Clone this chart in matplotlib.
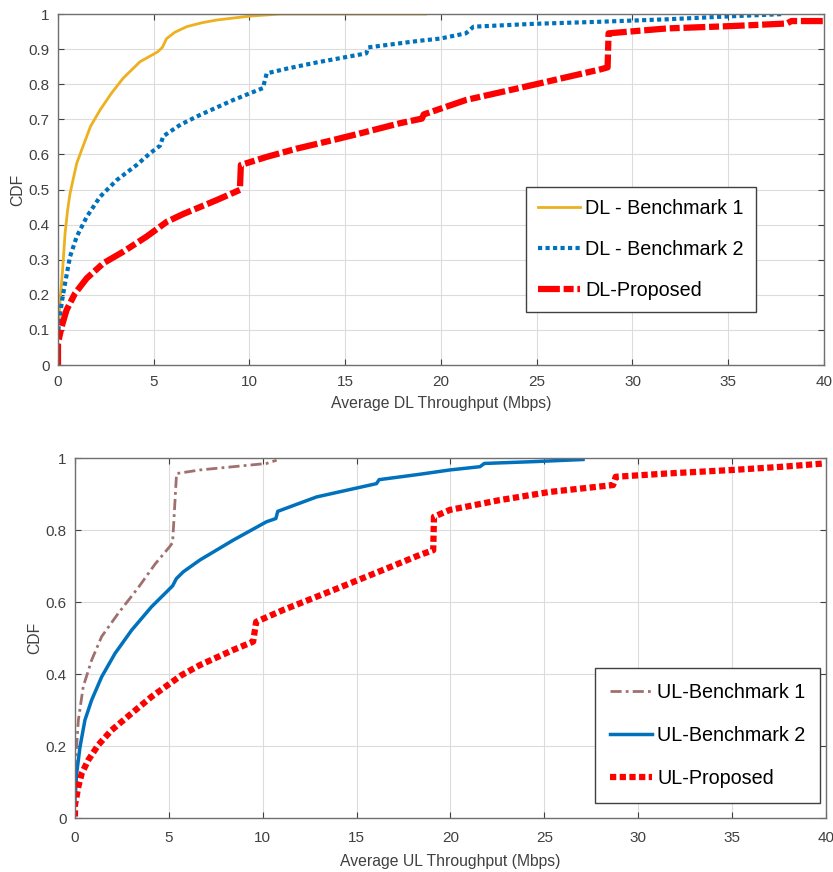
import matplotlib
matplotlib.use("Agg")
import matplotlib.pyplot as plt

plt.rcParams["font.family"] = ["Liberation Sans", "DejaVu Sans"]

# DL curves (x in Mbps, y = CDF)
dl_b1_x = [0.05, 0.1, 0.24, 0.37, 0.5, 0.63, 0.98, 1.32, 1.7, 2.19, 2.8, 3.4, 4.28, 5.2, 5.45, 5.67, 6.1,
           6.72, 7.5, 8.29, 10.0, 11.6, 15.0, 19.2]
dl_b1_y = [0.12, 0.176, 0.27, 0.375, 0.44, 0.489, 0.575, 0.625, 0.68, 0.726, 0.775, 0.817, 0.864, 0.892, 0.905,
           0.93, 0.948, 0.964, 0.975, 0.983, 0.994, 1.0, 1.0, 1.0]

dl_b2_x = [0.0, 0.02, 0.19, 0.37, 0.63, 0.98, 1.5, 2.19, 3.07, 4.11, 4.8, 5.33, 5.5, 6.4, 7.4, 9.15, 10.7, 10.9,
           12.0, 13.5, 16.1, 16.2, 18.9, 19.95, 21.3, 21.7, 24.8, 28.3, 31.8, 35.3, 37.9]
dl_b2_y = [0.1, 0.1, 0.176, 0.233, 0.309, 0.366, 0.422, 0.479, 0.527, 0.57, 0.603, 0.625, 0.652, 0.685, 0.712,
           0.755, 0.789, 0.831, 0.845, 0.862, 0.888, 0.905, 0.924, 0.93, 0.945, 0.964, 0.972, 0.978, 0.985, 0.994,
           1.0]

dl_pr_x = [0.0, 0.0, 0.19, 0.45, 0.89, 1.5, 2.37, 3.41, 4.63, 5.68, 6.53, 8.29, 9.5, 9.55, 10.9, 12.5, 14.37,
           16.0, 17.86, 19.0, 19.1, 21.3, 24.8, 28.3, 28.7, 28.75, 31.8, 35.3, 38.05, 38.3, 40.0]
dl_pr_y = [0.0, 0.062, 0.109, 0.157, 0.204, 0.247, 0.29, 0.323, 0.366, 0.408, 0.43, 0.47, 0.499, 0.57, 0.593,
           0.617, 0.641, 0.663, 0.689, 0.702, 0.714, 0.755, 0.798, 0.842, 0.848, 0.945, 0.959, 0.966, 0.973,
           0.98, 0.98]

# UL curves
ul_b1_x = [0.0, 0.18, 0.44, 0.89, 1.42, 2.31, 3.37, 4.26, 5.06, 5.2, 5.41, 6.66, 10.2, 10.74]
ul_b1_y = [0.13, 0.272, 0.365, 0.439, 0.504, 0.569, 0.64, 0.705, 0.755, 0.765, 0.957, 0.967, 0.985, 0.994]

ul_b2_x = [0.0, 0.09, 0.27, 0.53, 0.89, 1.42, 2.13, 3.02, 4.08, 4.97, 5.2, 5.4, 5.77, 6.66, 8.43, 10.2, 10.7,
           10.8, 12.87, 16.06, 16.2, 18.37, 19.97, 21.57, 21.8, 24.4, 27.06]
ul_b2_y = [0.05, 0.124, 0.198, 0.272, 0.328, 0.392, 0.457, 0.522, 0.587, 0.633, 0.645, 0.665, 0.684, 0.717,
           0.772, 0.823, 0.832, 0.852, 0.892, 0.929, 0.94, 0.955, 0.967, 0.976, 0.985, 0.99, 0.996]

ul_pr_x = [0.0, 0.0, 0.18, 0.36, 0.71, 1.24, 1.95, 3.02, 4.08, 5.68, 6.66, 8.43, 9.49, 9.65, 11.09, 13.75, 16.4,
           18.37, 19.08, 19.12, 19.97, 22.6, 25.3, 28.66, 28.8, 31.5, 35.05, 37.7, 39.9]
ul_pr_y = [0.004, 0.036, 0.087, 0.124, 0.161, 0.203, 0.244, 0.291, 0.337, 0.397, 0.425, 0.467, 0.49, 0.545,
           0.578, 0.633, 0.689, 0.731, 0.744, 0.837, 0.856, 0.883, 0.906, 0.925, 0.948, 0.957, 0.967, 0.976,
           0.985]

dl_labels = ["DL - Benchmark 1", "DL - Benchmark 2", "DL-Proposed"]
ul_labels = ["UL-Benchmark 1", "UL-Benchmark 2", "UL-Proposed"]

fig = plt.figure(figsize=(8.33, 8.72), dpi=100)
ax1 = fig.add_axes([0.0696, 0.5814, 0.9196, 0.4025])
ax2 = fig.add_axes([0.090, 0.0619, 0.9016, 0.4128])


def style_axis(ax, yticks, ylabels, xlabel, pad, labelpad):
    ax.set_xlim(0, 40)
    ax.set_ylim(0, 1)
    ax.set_xticks(range(0, 41, 5))
    ax.set_yticks(yticks)
    ax.set_yticklabels(ylabels)
    ax.grid(True, color="#dcdcdc", linewidth=0.8)
    ax.set_axisbelow(True)
    ax.tick_params(direction="in", top=True, right=True, labelsize=11, colors="#404040", length=4)
    ax.tick_params(axis="x", pad=pad)
    ax.tick_params(axis="y", pad=6)
    for s in ax.spines.values():
        s.set_color("#707070")
        s.set_linewidth(1.0)
    ax.set_xlabel(xlabel, fontsize=11.3, color="#404040", labelpad=labelpad)
    ax.set_ylabel("CDF", fontsize=11.3, color="#404040", labelpad=2)


def add_legend(ax, anchor, spacing, pad):
    leg = ax.legend(loc="upper left", bbox_to_anchor=anchor, bbox_transform=fig.transFigure,
                    fontsize=14.2, fancybox=False, edgecolor="#404040", framealpha=1, borderaxespad=0,
                    handlelength=2.15, labelspacing=spacing, borderpad=pad, handletextpad=0.25)
    leg.get_frame().set_linewidth(1.0)
    return leg


# top panel
ax1.plot(dl_b1_x, dl_b1_y, color="#EDB120", linewidth=2.0, label=dl_labels[0])
ax1.plot(dl_b2_x, dl_b2_y, color="#0072BD", linewidth=3.0, linestyle=(0, (1, 0.8)), label=dl_labels[1])
ax1.plot(dl_pr_x, dl_pr_y, color="#FF0000", linewidth=4.5, linestyle=(0, (3.5, 0.6, 1.6, 0.6)),
         label=dl_labels[2])
style_axis(ax1, [i / 10 for i in range(11)],
           ["0", "0.1", "0.2", "0.3", "0.4", "0.5", "0.6", "0.7", "0.8", "0.9", "1"],
           "Average DL Throughput (Mbps)", 7, 5)
add_legend(ax1, (0.6315, 0.7856), 1.12, 0.6)

# bottom panel
ax2.plot(ul_b1_x, ul_b1_y, color="#A0706E", linewidth=2.0, linestyle=(0, (4, 1.5, 1, 1.5)), label=ul_labels[0])
ax2.plot(ul_b2_x, ul_b2_y, color="#0072BD", linewidth=2.5, label=ul_labels[1])
ax2.plot(ul_pr_x, ul_pr_y, color="#FF0000", linewidth=4.5, linestyle=(0, (1, 0.55)), label=ul_labels[2])
style_axis(ax2, [0, 0.2, 0.4, 0.6, 0.8, 1.0], ["0", "0.2", "0.4", "0.6", "0.8", "1"],
           "Average UL Throughput (Mbps)", 9, 7)
add_legend(ax2, (0.7143, 0.234), 1.22, 0.75)

fig.savefig("out.png", dpi=100)
